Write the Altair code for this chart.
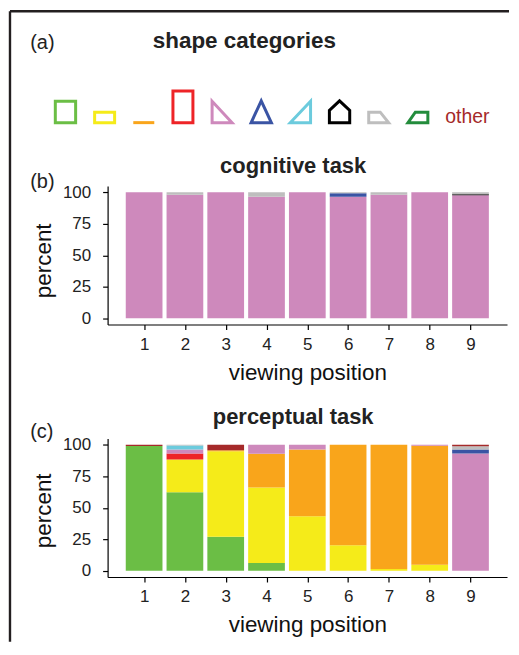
import altair as alt
import pandas as pd

FONT = "Liberation Sans"

categories = [
    "square", "horizontal rectangle", "line", "vertical rectangle",
    "right triangle", "isosceles triangle", "mirrored right triangle",
    "pentagon", "trapezoid", "parallelogram", "other",
]
colors = [
    "#6BBE45", "#F5EB19", "#F9A51B", "#EE2427", "#CE89BC", "#3A54A4",
    "#6CCBDD", "#000000", "#BEBEBE", "#238C3C", "#A52A2A",
]
icon_paths = [
    "M-0.6,1L0.6,1L0.6,-0.27L-0.6,-0.27Z",
    "M-0.59,1L0.59,1L0.59,0.37L-0.59,0.37Z",
    "M-0.62,0.99L0.62,0.99",
    "M-0.59,1L0.59,1L0.59,-0.88L-0.59,-0.88Z",
    "M-0.59,-0.27L-0.59,1L0.59,1Z",
    "M0,-0.3L0.6,1L-0.6,1Z",
    "M0.6,-0.27L0.6,1L-0.6,1Z",
    "M0,-0.3L0.6,0.27L0.6,1L-0.6,1L-0.6,0.27Z",
    "M-0.59,0.37L0.09,0.37L0.59,1L-0.59,1Z",
    "M-0.59,1L-0.15,0.37L0.59,0.37L0.59,1Z",
]

positions = [1, 2, 3, 4, 5, 6, 7, 8, 9]

cognitive_pct = {
    "right triangle":     [100, 98, 100, 96.5, 100, 96.5, 98, 100, 97.7],
    "isosceles triangle": [0, 0, 0, 0, 0, 2.7, 0, 0, 0],
    "pentagon":           [0, 0, 0, 0, 0, 0, 0, 0, 0.8],
    "trapezoid":          [0, 2, 0, 3.5, 0, 0.8, 2, 0, 1.5],
}

perceptual_pct = {
    "square":                  [99, 62.3, 26.9, 6.1, 0, 0, 0, 0, 0],
    "horizontal rectangle":    [0, 26.1, 68.0, 60.1, 43.3, 20.3, 1.3, 4.8, 0],
    "line":                    [0, 0, 0.8, 26.7, 53.0, 79.7, 98.7, 94.5, 0],
    "vertical rectangle":      [0, 4.7, 0, 0, 0, 0, 0, 0, 0],
    "right triangle":          [0, 3.2, 0, 7.1, 3.7, 0, 0, 0.7, 93.2],
    "isosceles triangle":      [0, 0, 0, 0, 0, 0, 0, 0, 3.1],
    "mirrored right triangle": [0, 3.1, 0, 0, 0, 0, 0, 0, 0],
    "trapezoid":               [0, 0.6, 0, 0, 0, 0, 0, 0, 2.6],
    "other":                   [1, 0, 4.3, 0, 0, 0, 0, 0, 1.1],
}

color_scale = alt.Scale(domain=categories, range=colors)


def long_table(table):
    rows = []
    for ci, cat in enumerate(categories):
        vals = table.get(cat)
        if vals is None:
            continue
        for p, v in zip(positions, vals):
            if v > 0:
                rows.append({"pos": p, "category": cat, "order": ci, "pct": v})
    return pd.DataFrame(rows)


def label_text(text, x, y, size, bold=False, align="left", color="#222"):
    return (
        alt.Chart(alt.Data(values=[{"t": text}]))
        .mark_text(align=align, baseline="alphabetic", fontSize=size,
                   fontWeight="bold" if bold else "normal", font=FONT, color=color)
        .encode(x=alt.value(x), y=alt.value(y), text="t:N")
    )


def task_panel(table, title, tag, title_y, axis_title_y, tag_y):
    df = long_table(table)
    bars = (
        alt.Chart(df)
        .transform_window(
            top="sum(pct)", groupby=["pos"],
            sort=[alt.SortField("order")], frame=[None, 0],
        )
        .transform_calculate(
            bottom="datum.top - datum.pct",
            left="datum.pos - 0.45",
            right="datum.pos + 0.45",
        )
        .mark_bar()
        .encode(
            x=alt.X("left:Q",
                    scale=alt.Scale(domain=[0.105, 9.895], nice=False, zero=False),
                    axis=alt.Axis(values=positions, format="d", title="viewing position")),
            x2="right:Q",
            y=alt.Y("bottom:Q",
                    scale=alt.Scale(domain=[-5, 105], nice=False, zero=False),
                    axis=alt.Axis(values=[0, 25, 50, 75, 100], title="percent",
                                  titleY=axis_title_y)),
            y2="top:Q",
            color=alt.Color("category:N", scale=color_scale, legend=None),
        )
    )
    tag_text = label_text(tag, -77.7, tag_y, 20)
    title_text = label_text(title, 186.3, title_y, 22, bold=True, align="center")
    return alt.layer(bars, tag_text, title_text).properties(width=401, height=139)


# panel (a): shape legend
icon_df = pd.DataFrame({"category": categories[:10], "idx": list(range(10))})
other_df = pd.DataFrame({"category": ["other"], "idx": [10]})
x_icon = alt.Scale(domain=[1.076, 11.277], nice=False, zero=False)

frame_left = (
    alt.Chart(alt.Data(values=[{"k": 1}]))
    .mark_rule(color="#231F20", strokeWidth=2.4, strokeCap="butt")
    .encode(x=alt.value(-98), y=alt.value(1), y2=alt.value(634))
)
frame_top = (
    alt.Chart(alt.Data(values=[{"k": 1}]))
    .mark_rule(color="#231F20", strokeWidth=2.4, strokeCap="butt")
    .encode(x=alt.value(-98), x2=alt.value(403), y=alt.value(1))
)
tag_a = label_text("(a)", -77.7, 38.5, 20)
title_a = label_text("shape categories", 137.3, 37.6, 22.5, bold=True, align="center")
icons = (
    alt.Chart(icon_df)
    .mark_point(filled=False, strokeWidth=3, opacity=1, size=1156)
    .encode(
        x=alt.X("idx:Q", scale=x_icon, axis=None),
        y=alt.value(96),
        shape=alt.Shape("category:N",
                        scale=alt.Scale(domain=categories[:10], range=icon_paths),
                        legend=None),
        color=alt.Color("category:N", scale=color_scale, legend=None),
    )
)
other = (
    alt.Chart(other_df)
    .mark_text(align="left", baseline="alphabetic", dx=-11.8, fontSize=19.5,
               font=FONT, color="#A52A2A")
    .encode(x=alt.X("idx:Q", scale=x_icon, axis=None), y=alt.value(113), text="category:N")
)
panel_a = alt.layer(frame_left, frame_top, tag_a, title_a, icons, other).properties(
    width=401, height=62
)

panel_b = task_panel(cognitive_pct, "cognitive task", "(b)", -12.9, 74.5, 2.2)
panel_c = task_panel(perceptual_pct, "perceptual task", "(c)", -14.7, 72, -1)

chart = (
    alt.vconcat(panel_a, panel_b, panel_c, spacing=114.5, bounds="flush")
    .properties(padding=0, background="white")
    .configure_view(stroke=None)
    .configure_axis(
        domainColor="black", domainWidth=1.2, tickColor="black", tickWidth=1.2,
        tickSize=5, labelFont=FONT, labelFontSize=17, labelColor="#222",
        titleFont=FONT, titleFontSize=22.5, titleFontWeight="normal",
        titleColor="#111", grid=False,
    )
    .configure_axisY(labelPadding=12, titlePadding=7)
    .configure_axisX(labelPadding=7, titlePadding=9)
)

chart.save("out.html", embed_options={"renderer": "svg", "actions": False})
